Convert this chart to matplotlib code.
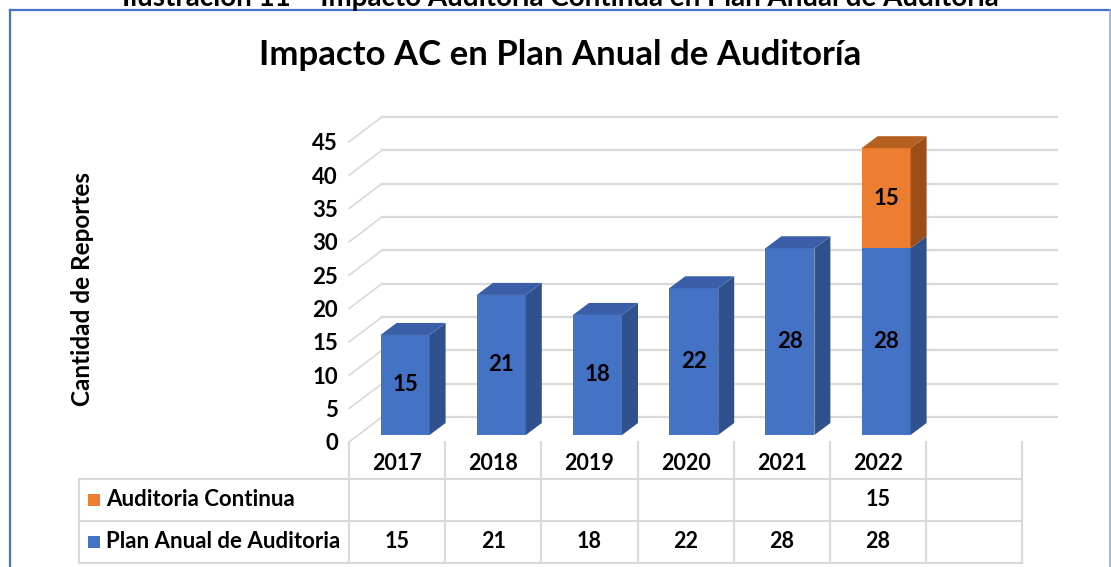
import matplotlib
matplotlib.use("Agg")
import matplotlib.pyplot as plt
from matplotlib.patches import Polygon, Rectangle
from matplotlib.lines import Line2D

plt.rcParams['font.family'] = ['Lato', 'DejaVu Sans']
plt.rcParams['font.weight'] = 'bold'

# --- data -----------------------------------------------------------------
years = ["2017", "2018", "2019", "2020", "2021", "2022"]
plan_anual = [15, 21, 18, 22, 28, 28]
auditoria_continua = [None, None, None, None, None, 15]
series_names = ["Auditoria Continua", "Plan Anual de Auditoria"]
y_ticks = [0, 5, 10, 15, 20, 25, 30, 35, 40, 45]

caption = "Ilustración 11 – Impacto Auditoria Continua en Plan Anual de Auditoria"
title = "Impacto AC en Plan Anual de Auditoría"
y_label = "Cantidad de Reportes"

# colours: front, top, side
BLUE = ("#4472C4", "#3A5FA8", "#2F528F")
ORANGE = ("#ED7D31", "#B6601F", "#9C4D18")
GRID = "#d9d9d9"

# --- layout (pixels) ---------------------------------------------------------
W, H = 1111, 567
slot_px = 96.2      # width of one category column
x0_px = 349         # front wall / first column edge
zero_px = 442       # value 0 on the front wall
unit_px = 6.67      # pixels per report
top_px = 100
label_col_px = 79   # left edge of the table label column
n_slots = len(years) + 1   # Excel leaves one empty column


def fx(x):
    return x / W


def fy(y):
    return 1 - y / H


fig = plt.figure(figsize=(W / 100, H / 100), dpi=100)
fig.patch.set_facecolor("white")

right_px = x0_px + (n_slots + 0.5) * slot_px
ax = fig.add_axes([fx(x0_px), fy(zero_px), fx(right_px) - fx(x0_px), (zero_px - top_px) / H])
ax.set_xlim(-0.5, n_slots)
ax.set_ylim(0, (zero_px - top_px) / unit_px)
ax.patch.set_visible(False)
for s in ax.spines.values():
    s.set_visible(False)
ax.set_xticks([])
ax.set_yticks(y_ticks)
ax.set_yticklabels([str(t) for t in y_ticks], fontsize=16, fontweight='bold')
ax.tick_params(axis='y', length=0, pad=8)

# back wall gridlines + side wall diagonals
back_dx = 33 / slot_px
back_dy = 25 / unit_px
grid_end = (1057 - x0_px) / slot_px - 0.5
for v in y_ticks:
    ax.plot([-0.5, -0.5 + back_dx], [v, v + back_dy], color=GRID, lw=1.2, zorder=1, clip_on=False)
    ax.plot([-0.5 + back_dx, grid_end], [v + back_dy] * 2, color=GRID, lw=1.6, zorder=1, clip_on=False)

# 3d-ish stacked bars
bar_w = 49 / slot_px
bar_dx = 8 / slot_px
bar_dy = (zero_px - 435) / unit_px
dep_x = 16 / slot_px
dep_y = 12 / unit_px

xs = [i + bar_dx for i in range(len(years))]
bottoms = [bar_dy] * len(years)
tops = [None] * len(years)
for vals, cols in [(plan_anual, BLUE), (auditoria_continua, ORANGE)]:
    heights = [v or 0 for v in vals]
    ax.bar(xs, heights, bar_w, bottom=bottoms, color=cols[0], lw=0, zorder=3)
    for x, b, h in zip(xs, bottoms, heights):
        if h == 0:
            continue
        r = x + bar_w / 2
        ax.add_patch(Polygon([(r, b), (r + dep_x, b + dep_y), (r + dep_x, b + h + dep_y), (r, b + h)],
                             closed=True, color=cols[2], lw=0, zorder=3))
        ax.text(x, b + h / 2, str(h), ha='center', va='center', fontsize=16,
                fontweight='bold', color='black', zorder=5)
    for i, (b, h) in enumerate(zip(bottoms, heights)):
        if h:
            tops[i] = (b + h, cols[1])
    bottoms = [b + h for b, h in zip(bottoms, heights)]

for x, (yt, c) in zip(xs, tops):
    l, r = x - bar_w / 2, x + bar_w / 2
    ax.add_patch(Polygon([(l, yt), (r, yt), (r + dep_x, yt + dep_y), (l + dep_x, yt + dep_y)],
                         closed=True, color=c, lw=0, zorder=4))

# --- data table ------------------------------------------------------------
row_lines = [479, 521, 563]
tab = fig.add_axes([fx(label_col_px), fy(row_lines[-1]), fx(right_px) - fx(label_col_px),
                    (row_lines[-1] - zero_px) / H])
lab_left = -0.5 - (x0_px - label_col_px) / slot_px
tab.set_xlim(lab_left, n_slots)
tab.set_ylim(row_lines[-1], zero_px)
tab.axis('off')

for i in range(n_slots + 1):
    tab.plot([i - 0.5] * 2, [zero_px, row_lines[-1]], color=GRID, lw=1.5, clip_on=False)
tab.plot([lab_left] * 2, [row_lines[0], row_lines[-1]], color=GRID, lw=1.5, clip_on=False)
for y in row_lines:
    tab.plot([lab_left, n_slots - 0.5], [y, y], color=GRID, lw=1.5, clip_on=False)

mid_header = (zero_px + row_lines[0]) / 2 + 3
mid_rows = [(row_lines[0] + row_lines[1]) / 2, (row_lines[1] + row_lines[2]) / 2]
for i, yr in enumerate(years):
    tab.text(i, mid_header, yr, ha='center', va='center', fontsize=15.5, fontweight='bold')

for row_y, name, vals, cols in zip(mid_rows, series_names,
                                   [auditoria_continua, plan_anual], [ORANGE, BLUE]):
    sq = 12
    tab.add_patch(Rectangle((lab_left + (88 - label_col_px) / slot_px, row_y - sq / 2),
                            sq / slot_px, sq, color=cols[0], lw=0, clip_on=False))
    tab.text(lab_left + (106 - label_col_px) / slot_px, row_y, name, ha='left', va='center',
             fontsize=16, fontweight='bold')
    for i, v in enumerate(vals):
        if v is not None:
            tab.text(i, row_y, str(v), ha='center', va='center', fontsize=15.5, fontweight='bold')

# --- titles and frame ------------------------------------------------------
fig.text(fx(560), fy(55), title, ha='center', va='center', fontsize=25, fontweight='bold')
fig.text(fx(82), fy(289), y_label, rotation=90, ha='center', va='center',
         fontsize=17.5, fontweight='bold')
fig.text(fx(560), fy(6), caption, ha='center', va='baseline', fontsize=20, fontweight='bold')

fig.add_artist(Rectangle((fx(0), fy(10)), 1, 0.05, color='white', lw=0, zorder=-1))
fig.add_artist(Line2D([fx(10), fx(10)], [fy(10), 0], color="#4472C4", lw=1.6))
fig.add_artist(Line2D([fx(10), fx(1109.5)], [fy(10), fy(10)], color="#4472C4", lw=1.6))
fig.add_artist(Line2D([fx(1109.5), fx(1109.5)], [fy(10), 0], color="#8FAADC", lw=1.2))

fig.savefig("out.png", dpi=100)
